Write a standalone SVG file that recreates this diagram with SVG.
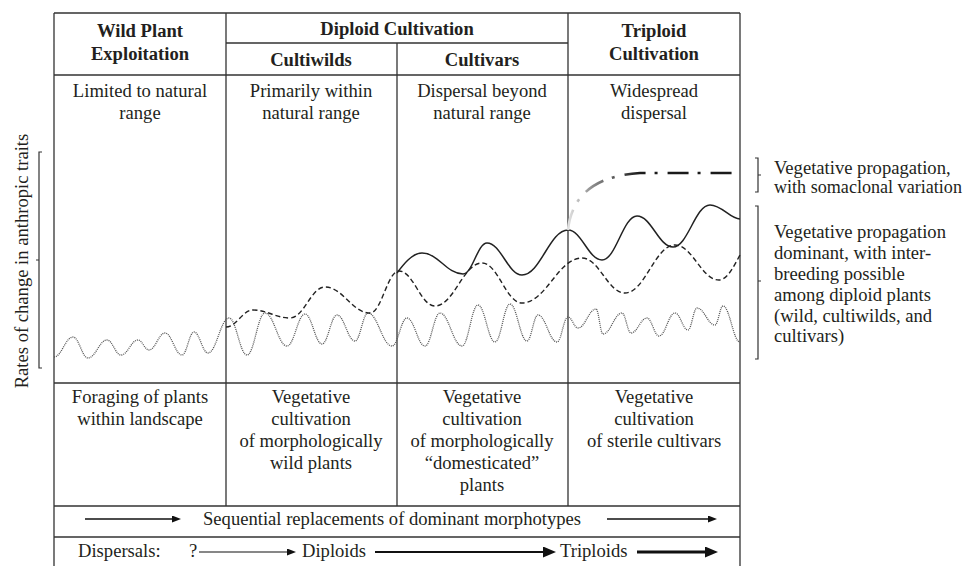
<svg xmlns="http://www.w3.org/2000/svg" width="965" height="566" viewBox="0 0 965 566">
<style>
  text { font-family: "Liberation Serif", "Times New Roman", serif; font-size: 18.6px; fill: #231f20; }
  .b { font-weight: bold; }
  .c { text-anchor: middle; }
  .grid { stroke: #333; stroke-width: 1.3; fill: none; }
  .brk { stroke: #333; stroke-width: 1.2; fill: none; }
  .solid { stroke: #222; stroke-width: 1.5; fill: none; }
  .dash { stroke: #222; stroke-width: 1.4; fill: none; stroke-dasharray: 5 3; }
  .dot { stroke: #555; stroke-width: 1.3; fill: none; stroke-dasharray: 1 1; }
  .arr { stroke: #111; fill: none; }
</style>
<defs>
  <linearGradient id="ddGrad" gradientUnits="userSpaceOnUse" x1="568" y1="0" x2="640" y2="0">
    <stop offset="0" stop-color="#e2e2e2"/>
    <stop offset="0.35" stop-color="#8a8a8a"/>
    <stop offset="1" stop-color="#1a1a1a"/>
  </linearGradient>
  <marker id="headS" markerUnits="userSpaceOnUse" markerWidth="10" markerHeight="8" refX="2" refY="3.5" orient="auto">
    <path d="M0,0 L9,3.5 L0,7 z" fill="#111"/>
  </marker>
  <marker id="headL" markerUnits="userSpaceOnUse" markerWidth="14" markerHeight="12" refX="2" refY="5.5" orient="auto">
    <path d="M0,0 L13,5.5 L0,11 z" fill="#111"/>
  </marker>
</defs>

<g id="table">
  <path class="grid" d="M54,13 H740 M54,13 V566 M740,13 V566 M226,43 H568 M54,75 H740 M54,383 H740 M54,506 H740 M54,537 H740 M226,13 V506 M397,43 V506 M568,13 V506"/>
</g>

<g id="headers">
  <text class="b c" x="140" y="37">Wild Plant</text>
  <text class="b c" x="140" y="60">Exploitation</text>
  <text class="b c" x="397" y="35">Diploid Cultivation</text>
  <text class="b c" x="311" y="66">Cultiwilds</text>
  <text class="b c" x="482" y="66">Cultivars</text>
  <text class="b c" x="654" y="37">Triploid</text>
  <text class="b c" x="654" y="60">Cultivation</text>
</g>

<g id="range-row">
  <text class="c" x="140" y="97">Limited to natural</text>
  <text class="c" x="140" y="119">range</text>
  <text class="c" x="311" y="97">Primarily within</text>
  <text class="c" x="311" y="119">natural range</text>
  <text class="c" x="482" y="97">Dispersal beyond</text>
  <text class="c" x="482" y="119">natural range</text>
  <text class="c" x="654" y="97">Widespread</text>
  <text class="c" x="654" y="119">dispersal</text>
</g>

<g id="axis-label">
  <path class="brk" d="M42,152 H39 V368 H42 M39,260 H36"/>
  <text class="c" transform="translate(28,261) rotate(-90)">Rates of change in anthropic traits</text>
</g>

<g id="connectors">
  <path id="dotted-curve" class="dot" d="M54,357 C61.6,357 65.4,337 73,337 C79,337 82,358 88,358 C95.6,358 99.4,340 107,340 C112.6,340 115.4,355 121,355 C127.8,355 131.2,340 138,340 C142.4,340 144.6,350 149,350 C155.4,350 158.6,333 165,333 C171.8,333 175.2,355 182,355 C186.8,355 189.2,332 194,332 C199.6,332 202.4,353 208,353 C216.4,353 220.6,318 229,318 C236.2,318 239.8,355 247,355 C254.2,355 257.8,313 265,313 C273.8,313 278.2,346 287,346 C294.2,346 297.8,314 305,314 C311.8,314 315.2,344 322,344 C328,344 331,315 337,315 C344.2,315 347.8,341 355,341 C360.2,341 362.8,313 368,313 C377.6,313 382.4,346 392,346 C398,346 401,318 407,318 C414.2,318 417.8,346 425,346 C431,346 434,313 440,313 C448.8,313 453.2,346 462,346 C468.4,346 471.6,305 478,305 C484.8,305 488.2,342 495,342 C501,342 504,304 510,304 C516.8,304 520.2,341 527,341 C531.4,341 533.6,315 538,315 C545.6,315 549.4,342 557,342 C561.4,342 563.6,317 568,317 C572,317 574,328 578,328 C585.2,328 588.8,309 596,309 C598.8,309 600.2,334 603,334 C610.6,334 614.4,313 622,313 C625.6,313 627.4,333 631,333 C637.4,333 640.6,318 647,318 C651.8,318 654.2,336 659,336 C665.4,336 668.6,313 675,313 C680.2,313 682.8,330 688,330 C691.6,330 693.4,308 697,308 C704.2,308 707.8,325 715,325 C718.2,325 719.8,306 723,306 C729.8,306 733.2,342 740,342"/>
  <path id="dashed-curve" class="dash" d="M226,327 C236.8,327 242.2,310 253,310 C267.8,310 275.2,318 290,318 C304,318 311,287 325,287 C343,287 352,313 370,313 C381.6,313 387.4,271 399,271 C413.4,271 420.6,306 435,306 C453.8,306 463.2,263 482,263 C498,263 506,303 522,303 C546,303 558,258 582,258 C599.2,258 607.8,293 625,293 C645,293 655,245 675,245 C692.6,245 701.4,280 719,280 C727.4,280 734,266 740,255"/>
  <path id="solid-curve" class="solid" d="M397,273 C403,265 412,253 422,253 C438.4,253 446.6,274 463,274 C472.6,274 477.4,243 487,243 C501,243 508,275 522,275 C540.4,275 549.6,230 568,230 C581.6,230 588.4,260 602,260 C616,260 623,216 637,216 C651.4,216 658.6,247 673,247 C687.8,247 695.2,205 710,205 C722,205 730,219 740,219"/>
  <path id="dashdot-curve" d="M568,230 C571,200 590,176 640,173 L740,173" fill="none" stroke="url(#ddGrad)" stroke-width="2.6" stroke-dasharray="21 9 3 10"/>
</g>

<g id="legend-somaclonal">
  <path class="brk" d="M755,158 H758 V192 H755 M758,175 H761"/>
  <text x="774" y="174">Vegetative propagation,</text>
  <text x="774" y="193" style="font-size:18.1px">with somaclonal variation</text>
</g>

<g id="legend-interbreeding">
  <path class="brk" d="M755,206 H758 V359 H755 M758,281 H761"/>
  <text x="774" y="238">Vegetative propagation</text>
  <text x="774" y="259">dominant, with inter-</text>
  <text x="774" y="280">breeding possible</text>
  <text x="774" y="301">among diploid plants</text>
  <text x="774" y="322">(wild, cultiwilds, and</text>
  <text x="774" y="342">cultivars)</text>
</g>

<g id="practice-row">
  <text class="c" x="140" y="403">Foraging of plants</text>
  <text class="c" x="140" y="425">within landscape</text>
  <text class="c" x="311" y="403">Vegetative</text>
  <text class="c" x="311" y="425">cultivation</text>
  <text class="c" x="311" y="447">of morphologically</text>
  <text class="c" x="311" y="469">wild plants</text>
  <text class="c" x="482" y="403">Vegetative</text>
  <text class="c" x="482" y="425">cultivation</text>
  <text class="c" x="482" y="447">of morphologically</text>
  <text class="c" x="482" y="469">“domesticated”</text>
  <text class="c" x="482" y="491">plants</text>
  <text class="c" x="654" y="403">Vegetative</text>
  <text class="c" x="654" y="425">cultivation</text>
  <text class="c" x="654" y="447">of sterile cultivars</text>
</g>

<g id="sequence-row">
  <line class="arr" x1="85" y1="519" x2="174" y2="519" stroke-width="1.3" marker-end="url(#headS)"/>
  <text x="203" y="525">Sequential replacements of dominant morphotypes</text>
  <line class="arr" x1="607" y1="519" x2="710" y2="519" stroke-width="1.3" marker-end="url(#headS)"/>
</g>

<g id="dispersal-row">
  <text x="78" y="557">Dispersals:</text>
  <text x="189" y="557">?</text>
  <line class="arr" x1="199" y1="552" x2="289" y2="552" stroke-width="1.2" marker-end="url(#headS)"/>
  <text x="302" y="557">Diploids</text>
  <line class="arr" x1="375" y1="552" x2="545" y2="552" stroke-width="2" marker-end="url(#headL)"/>
  <text x="560" y="557">Triploids</text>
  <line class="arr" x1="637" y1="552" x2="707" y2="552" stroke-width="3.2" marker-end="url(#headL)"/>
</g>
</svg>
